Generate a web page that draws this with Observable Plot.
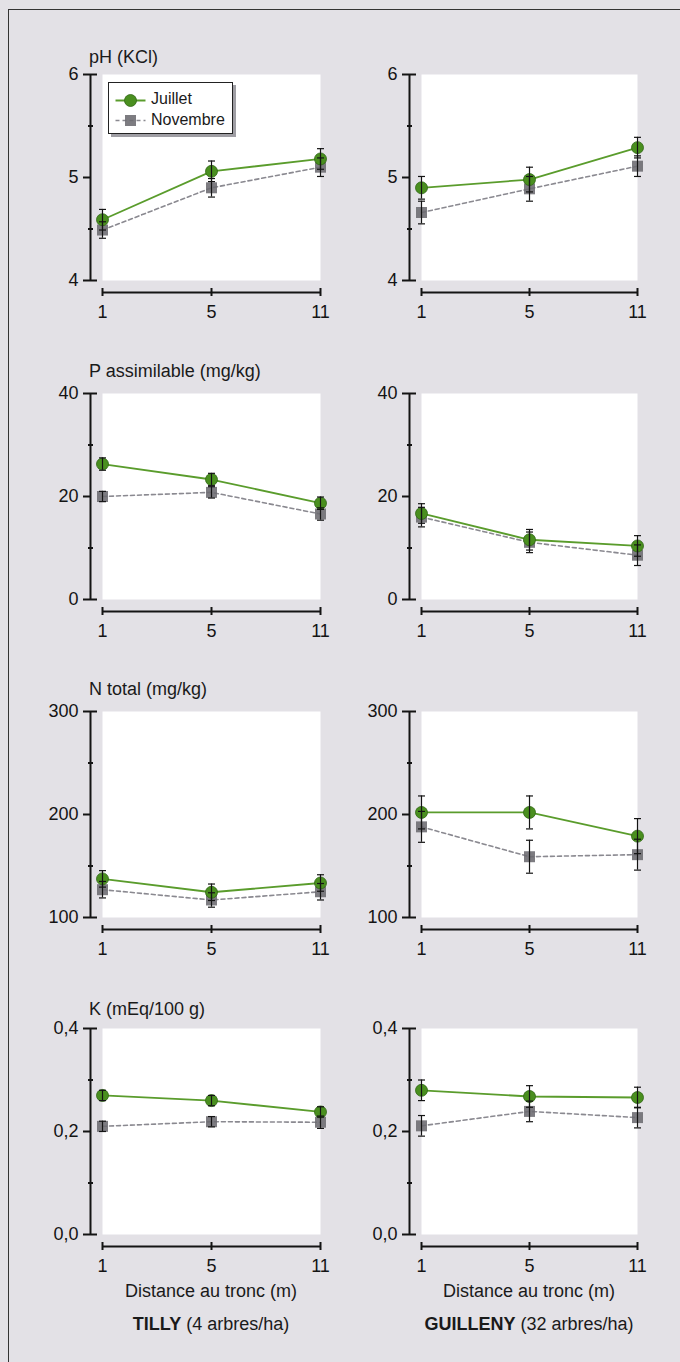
<!DOCTYPE html>
<html><head><meta charset="utf-8">
<script src="https://cdn.jsdelivr.net/npm/d3@7"></script>
<script src="https://cdn.jsdelivr.net/npm/@observablehq/plot@0.6"></script>
<style>
html,body{margin:0;padding:0;}
body{width:680px;height:1362px;overflow:hidden;background:#e3e1e6;font-family:"Liberation Sans",Arial,sans-serif;color:#1a1a1a;}
#page{position:relative;width:680px;height:1362px;overflow:hidden;}
#frame{position:absolute;left:8px;top:9px;width:700px;height:1400px;border-left:1.5px solid #333;border-top:1.5px solid #333;}
.title,.xlab{position:absolute;font-size:18px;line-height:18px;white-space:nowrap;}
.xlab{transform:translateX(-50%);}
#legend{position:absolute;left:108px;top:82px;width:123px;height:50px;border:1.5px solid #222;background:#fff;box-shadow:3px 3px 0 #9f9ea4;}
#legend span{position:absolute;left:42px;font-size:16px;line-height:16px;white-space:nowrap;}
</style></head><body><div id="page"><div id="frame"></div></div>
<script>
// ---- data ----
const distances = [1, 5, 11];
const series = ["Juillet", "Novembre"];
const sites = ["TILLY", "GUILLENY"];
const siteDensity = ["(4 arbres/ha)", "(32 arbres/ha)"];
const variables = ["pH (KCl)", "P assimilable (mg/kg)", "N total (mg/kg)", "K (mEq/100 g)"];
const xAxisLabel = "Distance au tronc (m)";

const phTillyJuillet = [4.59, 5.06, 5.18];
const phTillyJuilletErr = [0.10, 0.10, 0.10];
const phTillyNovembre = [4.49, 4.90, 5.10];
const phTillyNovembreErr = [0.08, 0.09, 0.09];
const phGuillenyJuillet = [4.90, 4.98, 5.29];
const phGuillenyJuilletErr = [0.11, 0.12, 0.10];
const phGuillenyNovembre = [4.66, 4.89, 5.11];
const phGuillenyNovembreErr = [0.11, 0.12, 0.10];

const pTillyJuillet = [26.3, 23.3, 18.7];
const pTillyJuilletErr = [1.2, 1.2, 1.2];
const pTillyNovembre = [20.0, 20.8, 16.6];
const pTillyNovembreErr = [1.0, 1.1, 1.2];
const pGuillenyJuillet = [16.7, 11.6, 10.4];
const pGuillenyJuilletErr = [1.9, 2.0, 2.0];
const pGuillenyNovembre = [16.0, 11.1, 8.6];
const pGuillenyNovembreErr = [1.9, 2.0, 2.0];

const nTillyJuillet = [137.5, 124.5, 133.5];
const nTillyJuilletErr = [8, 8, 8];
const nTillyNovembre = [127, 117, 125];
const nTillyNovembreErr = [8, 7, 8];
const nGuillenyJuillet = [202, 202, 179];
const nGuillenyJuilletErr = [16, 16, 17];
const nGuillenyNovembre = [188, 159, 161];
const nGuillenyNovembreErr = [15, 16, 15];

const kTillyJuillet = [0.270, 0.260, 0.238];
const kTillyJuilletErr = [0.010, 0.010, 0.010];
const kTillyNovembre = [0.210, 0.219, 0.218];
const kTillyNovembreErr = [0.010, 0.010, 0.012];
const kGuillenyJuillet = [0.280, 0.268, 0.266];
const kGuillenyJuilletErr = [0.020, 0.021, 0.020];
const kGuillenyNovembre = [0.211, 0.239, 0.227];
const kGuillenyNovembreErr = [0.020, 0.020, 0.020];

const yDomains = [[4, 6], [0, 40], [100, 300], [0, 0.4]];
const yMajorTicks = [[4, 5, 6], [0, 20, 40], [100, 200, 300], [0, 0.2, 0.4]];
const yMinorTicks = [[4.5, 5.5], [10, 30], [150, 250], [0.1, 0.3]];
const yFormats = [d => String(d), d => String(d), d => String(d), d => d.toFixed(1).replace(".", ",")];

// ---- styles ----
const green = "#4a8f1f", greenLine = "#5a9c2c", greenEdge = "#2f6614";
const grey = "#6b6a70", greyLine = "#8a8990";
const ink = "#141414";
const FONT = "'Liberation Sans', Arial, sans-serif";

const panelData = [
  [[phTillyJuillet, phTillyJuilletErr, phTillyNovembre, phTillyNovembreErr], [phGuillenyJuillet, phGuillenyJuilletErr, phGuillenyNovembre, phGuillenyNovembreErr]],
  [[pTillyJuillet, pTillyJuilletErr, pTillyNovembre, pTillyNovembreErr], [pGuillenyJuillet, pGuillenyJuilletErr, pGuillenyNovembre, pGuillenyNovembreErr]],
  [[nTillyJuillet, nTillyJuilletErr, nTillyNovembre, nTillyNovembreErr], [nGuillenyJuillet, nGuillenyJuilletErr, nGuillenyNovembre, nGuillenyNovembreErr]],
  [[kTillyJuillet, kTillyJuilletErr, kTillyNovembre, kTillyNovembreErr], [kGuillenyJuillet, kGuillenyJuilletErr, kGuillenyNovembre, kGuillenyNovembreErr]]
];

const rowTops = [74, 393, 711, 1028];
const plotH = 206, mTop = 20, mBottom = 45;
const colLeft = [0, 320], colML = [102, 101], colMR = [20, 23];

const capSymbol = {draw(ctx) { ctx.moveTo(-3.5, 0); ctx.lineTo(3.5, 0); }};

const page = document.getElementById("page");

function makePanel(r, c) {
  const [jul, julE, nov, novE] = panelData[r][c];
  const julRows = distances.map((d, i) => ({d, v: jul[i], e: julE[i]}));
  const novRows = distances.map((d, i) => ({d, v: nov[i], e: novE[i]}));
  const dom = yDomains[r];
  const errMarks = rows => [
    Plot.ruleX(rows, {x: "d", y1: d => d.v - d.e, y2: d => d.v + d.e, stroke: ink, strokeWidth: 1.2}),
    Plot.dot(rows, {x: "d", y: d => d.v + d.e, symbol: capSymbol, r: 3, stroke: ink, strokeWidth: 1.2}),
    Plot.dot(rows, {x: "d", y: d => d.v - d.e, symbol: capSymbol, r: 3, stroke: ink, strokeWidth: 1.2})
  ];
  const svg = Plot.plot({
    width: 340, height: mTop + plotH + mBottom,
    marginTop: mTop, marginBottom: mBottom, marginLeft: colML[c], marginRight: colMR[c],
    style: {fontFamily: FONT, fontSize: "18px", background: "transparent", color: ink, overflow: "visible"},
    x: {type: "point", domain: distances, padding: 0, axis: null},
    y: {domain: dom, axis: null},
    marks: [
      Plot.frame({fill: "white", stroke: null}),
      Plot.ruleX([distances[0]], {x: d => d, y1: dom[0], y2: dom[1], dx: -12, stroke: ink, strokeWidth: 2}),
      Plot.axisY({ticks: yMajorTicks[r], tickFormat: yFormats[r], tickSize: 7, tickPadding: 5, dx: -12, strokeWidth: 2, label: null, fontSize: 18}),
      Plot.axisY({ticks: dom, tickSize: 7, dx: -5, strokeWidth: 2, fill: null, label: null}),
      Plot.axisY({ticks: yMinorTicks[r], tickSize: 5, dx: -9, strokeWidth: 2, fill: null, label: null}),
      Plot.ruleY([dom[0]], {y: d => d, dy: 12, stroke: ink, strokeWidth: 2}),
      Plot.axisX({ticks: distances, tickSize: 8, dy: 8, tickPadding: 9, strokeWidth: 2, label: null, fontSize: 18}),
      Plot.line(novRows, {x: "d", y: "v", stroke: greyLine, strokeWidth: 1.6, strokeDasharray: "4,3"}),
      Plot.line(julRows, {x: "d", y: "v", stroke: greenLine, strokeWidth: 1.8}),
      Plot.dot(novRows, {x: "d", y: "v", symbol: "square", r: 6.2, fill: grey, fillOpacity: 0.88}),
      Plot.dot(julRows, {x: "d", y: "v", r: 6, fill: green, stroke: greenEdge, strokeWidth: 0.8}),
      ...errMarks(novRows),
      ...errMarks(julRows)
    ]
  });
  svg.style.position = "absolute";
  svg.style.left = colLeft[c] + "px";
  svg.style.top = (rowTops[r] - mTop) + "px";
  page.appendChild(svg);
}

for (let r = 0; r < 4; r++) for (let c = 0; c < 2; c++) makePanel(r, c);

// titles
const titleBaselines = [63, 377, 695, 1015];
variables.forEach((t, i) => {
  const el = document.createElement("div");
  el.className = "title";
  el.textContent = t;
  el.style.left = "89px";
  el.style.top = (titleBaselines[i] - 15) + "px";
  page.appendChild(el);
});

// bottom labels
const colCenters = [211, 529];
colCenters.forEach((cx, i) => {
  const a = document.createElement("div");
  a.className = "xlab";
  a.textContent = xAxisLabel;
  a.style.left = cx + "px";
  a.style.top = (1297 - 15) + "px";
  page.appendChild(a);
  const b = document.createElement("div");
  b.className = "xlab";
  b.innerHTML = `<b>${sites[i]}</b> ${siteDensity[i]}`;
  b.style.left = cx + "px";
  b.style.top = (1330 - 15) + "px";
  page.appendChild(b);
});

// legend
const lg = document.createElement("div");
lg.id = "legend";
lg.innerHTML = `<svg width="42" height="50" style="position:absolute;left:0;top:0">
  <line x1="6.5" y1="17.5" x2="36.5" y2="17.5" stroke="${greenLine}" stroke-width="2"/>
  <circle cx="21.5" cy="17.5" r="6" fill="${green}" stroke="${greenEdge}" stroke-width="0.8"/>
  <line x1="6.5" y1="37.5" x2="36.5" y2="37.5" stroke="${greyLine}" stroke-width="1.6" stroke-dasharray="4,3"/>
  <rect x="16" y="32" width="11" height="11" fill="${grey}" fill-opacity="0.88"/>
</svg><span style="top:8px">${series[0]}</span><span style="top:29px">${series[1]}</span>`;
page.appendChild(lg);
</script></body></html>
